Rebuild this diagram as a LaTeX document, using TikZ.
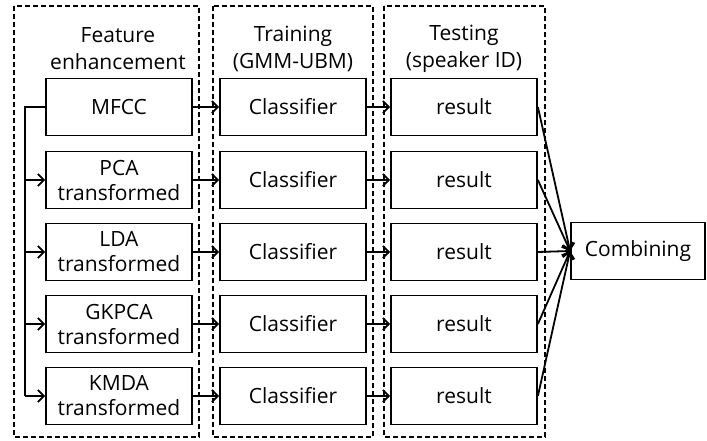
\documentclass[tikz,border=0pt]{standalone}
\usepackage{fontspec}
\setmainfont{Open Sans}
\usetikzlibrary{arrows.meta}

\begin{document}
\begin{tikzpicture}[x=1pt, y=-1pt, >={Straight Barb[length=6pt, width=12pt]},
    box/.style={draw, line width=1.8pt, minimum width=146pt, minimum height=57pt,
      inner sep=0pt, align=center, font=\fontsize{21}{25}\selectfont},
    group/.style={draw, line width=1.7pt, dash pattern=on 5pt off 3pt},
    title/.style={align=center, font=\fontsize{21}{27}\selectfont},
    link/.style={line width=1.8pt, ->}]
  \useasboundingbox (0,0) rectangle (707,441);

  % dashed stages
  \draw[group] (14,6) rectangle (199,437);
  \draw[group] (213,6) rectangle (373,437);
  \draw[group] (384,6) rectangle (545,437);
  \node[title] (tfeat) at (118,49) {Feature\\enhancement};
  \node[title] (ttrain) at (293,49) {Training\\(GMM-UBM)};
  \node[title] (ttest) at (464,49) {Testing\\(speaker ID)};

  % features
  \node[box] (mfcc) at (119,107) {MFCC};
  \node[box] (pca) at (119,180) {PCA\\transformed};
  \node[box] (lda) at (119,252) {LDA\\transformed};
  \node[box] (gkpca) at (119,324) {GKPCA\\transformed};
  \node[box] (kmda) at (119,396) {KMDA\\transformed};

  % classifiers
  \node[box] (cls1) at (293,107) {Classifier};
  \node[box] (cls2) at (293,180) {Classifier};
  \node[box] (cls3) at (293,252) {Classifier};
  \node[box] (cls4) at (293,324) {Classifier};
  \node[box] (cls5) at (293,396) {Classifier};

  % results
  \node[box] (res1) at (464,107) {result};
  \node[box] (res2) at (464,180) {result};
  \node[box] (res3) at (464,252) {result};
  \node[box] (res4) at (464,324) {result};
  \node[box] (res5) at (464,396) {result};

  \node[box, minimum width=134pt] (comb) at (638,251) {Combining};

  % feature bus
  \coordinate (bustop) at (25,107);
  \coordinate (busbot) at (25,396);
  \draw[line width=1.8pt] (mfcc.west) -- (bustop) -- (busbot);
  \draw[link] (bustop |- pca.west) -- (pca.west);
  \draw[link] (bustop |- lda.west) -- (lda.west);
  \draw[link] (bustop |- gkpca.west) -- (gkpca.west);
  \draw[link] (busbot) -- (kmda.west);

  \draw[link] (mfcc.east) -- (cls1.west);
  \draw[link] (pca.east) -- (cls2.west);
  \draw[link] (lda.east) -- (cls3.west);
  \draw[link] (gkpca.east) -- (cls4.west);
  \draw[link] (kmda.east) -- (cls5.west);

  \draw[link] (cls1.east) -- (res1.west);
  \draw[link] (cls2.east) -- (res2.west);
  \draw[link] (cls3.east) -- (res3.west);
  \draw[link] (cls4.east) -- (res4.west);
  \draw[link] (cls5.east) -- (res5.west);

  \draw[link] (res1.east) -- (comb.west);
  \draw[link] (res2.east) -- (comb.west);
  \draw[link] (res3.east) -- (comb.west);
  \draw[link] (res4.east) -- (comb.west);
  \draw[link] (res5.east) -- (comb.west);
\end{tikzpicture}
\end{document}
